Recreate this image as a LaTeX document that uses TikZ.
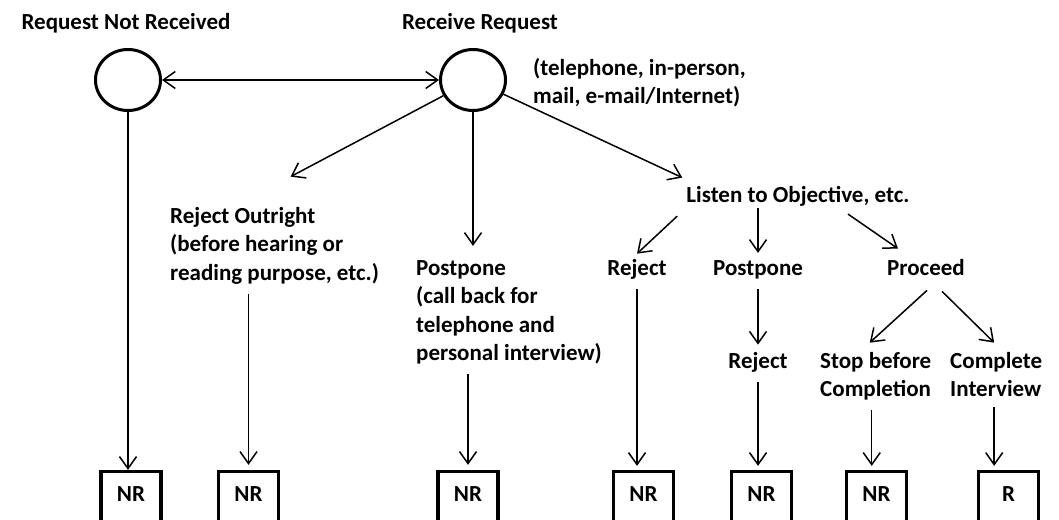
\documentclass[tikz,border=0pt]{standalone}
\usepackage{fontspec}
\setmainfont{Carlito}
\usetikzlibrary{arrows.meta,shapes.geometric}

\tikzset{
  etat/.style={ellipse, draw, line width=3pt, minimum width=65pt, minimum height=61pt, inner sep=0pt},
  txt/.style={font=\fontsize{23}{28.5}\selectfont\bfseries, align=left, inner sep=2pt},
  issue/.style={draw, line width=3.3pt, minimum width=60pt, minimum height=51pt, inner sep=0pt,
    font=\fontsize{23}{28.5}\selectfont\bfseries, text height=15pt, text depth=6pt},
  fl/.style={-{Straight Barb[length=12pt,width=17pt]}, line width=1.5pt},
  bfl/.style={{Straight Barb[length=12pt,width=17pt]}-{Straight Barb[length=12pt,width=17pt]}, line width=1.5pt},
  dep/.style={shorten <=8pt},
}

\begin{document}
\begin{tikzpicture}[x=1pt,y=1pt]
    \useasboundingbox (0,0) rectangle (1059,-519);
    \clip (0,0) rectangle (1059,-519);
    % les deux etats du haut
    \node[etat] (nrec) at (128,-80) {};
    \node[etat] (recv) at (473,-80) {};
    \node[txt, anchor=base] (lbnrec) at (126,-30) {Request Not Received};
    \node[txt, anchor=base] (lbrecv) at (480,-30) {Receive Request};
    \node[txt, anchor=base west] (media) at (531,-103.5) {(telephone, in-person,\\mail, e-mail/Internet)};
    % branches
    \node[txt, anchor=base west] (rejout) at (168,-280) {Reject Outright\\(before hearing or\\reading purpose, etc.)};
    \node[txt, anchor=base west] (postp) at (414,-360.5) {Postpone\\(call back for\\telephone and\\personal interview)};
    \node[txt, anchor=base] (listen) at (798,-202) {Listen to Objective, etc.};
    \node[txt, anchor=base] (rej1) at (637,-275) {Reject};
    \node[txt, anchor=base] (post2) at (758,-275) {Postpone};
    \node[txt, anchor=base] (rej2) at (758,-368) {Reject};
    \node[txt, anchor=base] (proc) at (926,-275) {Proceed};
    \node[txt, anchor=base west] (stop) at (818,-396.5) {Stop before\\Completion};
    \node[txt, anchor=base west] (comp) at (948,-396.5) {Complete\\Interview};
    % resultats
    \node[issue] (nr1) at (131,-497) {NR};
    \node[issue] (nr2) at (248.5,-497) {NR};
    \node[issue] (nr3) at (468,-497) {NR};
    \node[issue] (nr4) at (643.5,-497) {NR};
    \node[issue] (nr5) at (761.5,-497) {NR};
    \node[issue] (nr6) at (876.5,-497) {NR};
    \node[issue] (r7) at (1008.5,-497) {R};

    \draw[bfl] (nrec) -- (recv);
    \draw[fl] (nrec) -- (nrec |- nr1.north);
    \draw[fl] (recv) -- ([shift={(16pt,28pt)}]rejout.north);
    \draw[fl] (recv) -- ([yshift=12pt]recv |- postp.north);
    \draw[fl] (recv) -- ([shift={(-2pt,6pt)}]listen.north west);
    \draw[fl] ([shift={(-7pt,-8pt)}]listen.south west) -- ([yshift=3pt]rej1.north);
    \draw[fl] (post2 |- listen.south) -- ([yshift=5pt]post2.north);
    \draw[fl] ([shift={(50pt,-6pt)}]listen.south) -- ([shift={(-28pt,8pt)}]proc.north);
    \draw[fl, dep] (nr2 |- rejout.south) -- ([yshift=5pt]nr2.north);
    \draw[fl, dep] (nr3 |- postp.south) -- ([yshift=5pt]nr3.north);
    \draw[fl, dep] (rej1) -- ([yshift=4pt]rej1 |- nr4.north);
    \draw[fl, dep] (post2) -- ([yshift=5pt]rej2.north);
    \draw[fl, dep] (rej2) -- ([yshift=4pt]rej2 |- nr5.north);
    \draw[fl] ([shift={(1pt,-13pt)}]proc.south) -- ([shift={(-6pt,7pt)}]stop.north);
    \draw[fl] ([shift={(16pt,-14pt)}]proc.south) -- ([shift={(-2pt,7pt)}]comp.north);
    \draw[fl, dep] ([xshift=-4pt]stop.south) -- ([xshift=-4pt,yshift=4pt]stop.south |- nr6.north);
    \draw[fl, dep] ([xshift=-2pt]comp.south) -- ([xshift=-2pt,yshift=4pt]comp.south |- r7.north);
\end{tikzpicture}
\end{document}
